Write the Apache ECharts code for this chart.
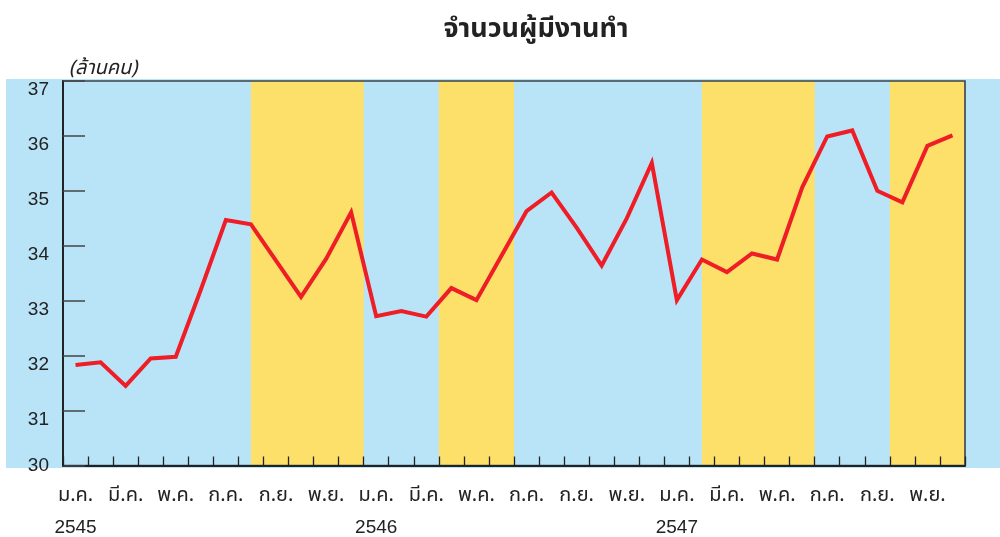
<!DOCTYPE html>
<html>
<head>
<meta charset="utf-8">
<script src="https://cdn.jsdelivr.net/npm/echarts@6/dist/echarts.min.js"></script>
<style>
html,body{margin:0;padding:0;background:#fff;}
#chart{width:1000px;height:537px;}
</style>
</head>
<body>
<div id="chart"></div>
<script>
// ---- data ----
const monthNames = ['ม.ค.','ก.พ.','มี.ค.','เม.ย.','พ.ค.','มิ.ย.','ก.ค.','ส.ค.','ก.ย.','ต.ค.','พ.ย.','ธ.ค.'];
const years = ['2545','2546','2547'];
const employed = [
  31.83, 31.88, 31.45, 31.95, 31.98, 33.2, 34.47, 34.39, 33.73, 33.07, 33.76, 34.61,
  32.72, 32.81, 32.71, 33.23, 33.01, 33.82, 34.63, 34.97, 34.33, 33.64, 34.5, 35.51,
  33.01, 33.75, 33.52, 33.86, 33.75, 35.06, 35.99, 36.10, 35.00, 34.79, 35.82, 36.01
];
const yTicks = [30, 31, 32, 33, 34, 35, 36, 37];
// shaded (yellow) periods, in month units from the start of the axis
const shadeBands = [[7.5, 12], [15, 18], [25.5, 30], [33, 36]];

const categories = [];
years.forEach(y => monthNames.forEach((m, i) => categories.push(i === 0 ? m + '|' + y : m)));

const thaiFont = '"Noto Sans Thai", "Noto Sans Thai Looped", Loma, Garuda, "Tlwg Typo", "Liberation Sans", sans-serif';
const numFont = '"Liberation Sans", Arial, sans-serif';

const chart = echarts.init(document.getElementById('chart'));
chart.setOption({
  animation: false,
  backgroundColor: '#ffffff',
  title: {
    text: 'จำนวนผู้มีงานทำ',
    left: 531, top: 13, textAlign: 'center',
    textStyle: {fontFamily: thaiFont, fontSize: 27, fontWeight: 'bold', color: '#222'}
  },
  graphic: [{
    type: 'rect', left: 6, top: 79, z: -10,
    shape: {width: 994, height: 389},
    style: {fill: '#b9e4f8'}
  }],
  grid: {
    left: 63, right: 35, top: 81, bottom: 69,
    show: true, borderColor: '#3a434b', borderWidth: 1.6,
    backgroundColor: 'transparent', z: 4
  },
  xAxis: [{
    type: 'category', data: categories, boundaryGap: true, z: 6,
    axisLine: {lineStyle: {color: '#222', width: 2}},
    axisTick: {show: true, inside: true, length: 9, interval: 0, alignWithLabel: false,
      lineStyle: {color: '#222', width: 1.3}},
    axisLabel: {
      interval: 1, margin: 19,
      formatter: v => {
        const p = v.split('|');
        return p.length > 1 ? '{m|' + p[0] + '}\n{y|' + p[1] + '}' : '{m|' + p[0] + '}';
      },
      rich: {
        m: {fontFamily: thaiFont, fontSize: 20, color: '#222', lineHeight: 24},
        y: {fontFamily: numFont, fontSize: 19, color: '#222', lineHeight: 38}
      }
    },
    splitLine: {show: false}
  }, {
    type: 'value', min: 0, max: 36, show: false
  }],
  yAxis: {
    type: 'value', min: yTicks[0], max: yTicks[yTicks.length - 1], interval: 1, z: 6,
    name: '(ล้านคน)', nameLocation: 'end', nameGap: 1,
    nameTextStyle: {fontFamily: thaiFont, fontSize: 20, fontStyle: 'italic', color: '#222',
      align: 'left', padding: [0, 0, 0, 6]},
    axisLine: {show: true, lineStyle: {color: '#222', width: 2}},
    axisTick: {show: true, inside: true, length: 22, lineStyle: {color: '#444', width: 1.5}},
    axisLabel: {
      margin: 14,
      formatter: v => (v === yTicks[0] ? '{b|' + v + '}' : '{a|' + v + '}'),
      rich: {
        a: {fontFamily: numFont, fontSize: 19, color: '#222', padding: [18, 0, 0, 0]},
        b: {fontFamily: numFont, fontSize: 19, color: '#222', padding: [0, 0, 0, 0]}
      }
    },
    splitLine: {show: false}
  },
  series: [{
    type: 'line', xAxisIndex: 1, data: [], silent: true, z: 1,
    markArea: {
      silent: true,
      itemStyle: {color: '#fce06a'},
      data: shadeBands.map(b => [{xAxis: b[0]}, {xAxis: b[1]}])
    }
  }, {
    type: 'line', xAxisIndex: 0, data: employed, z: 5,
    symbol: 'none',
    lineStyle: {color: '#ee1d26', width: 4, join: 'miter'}
  }]
});
</script>
</body>
</html>
